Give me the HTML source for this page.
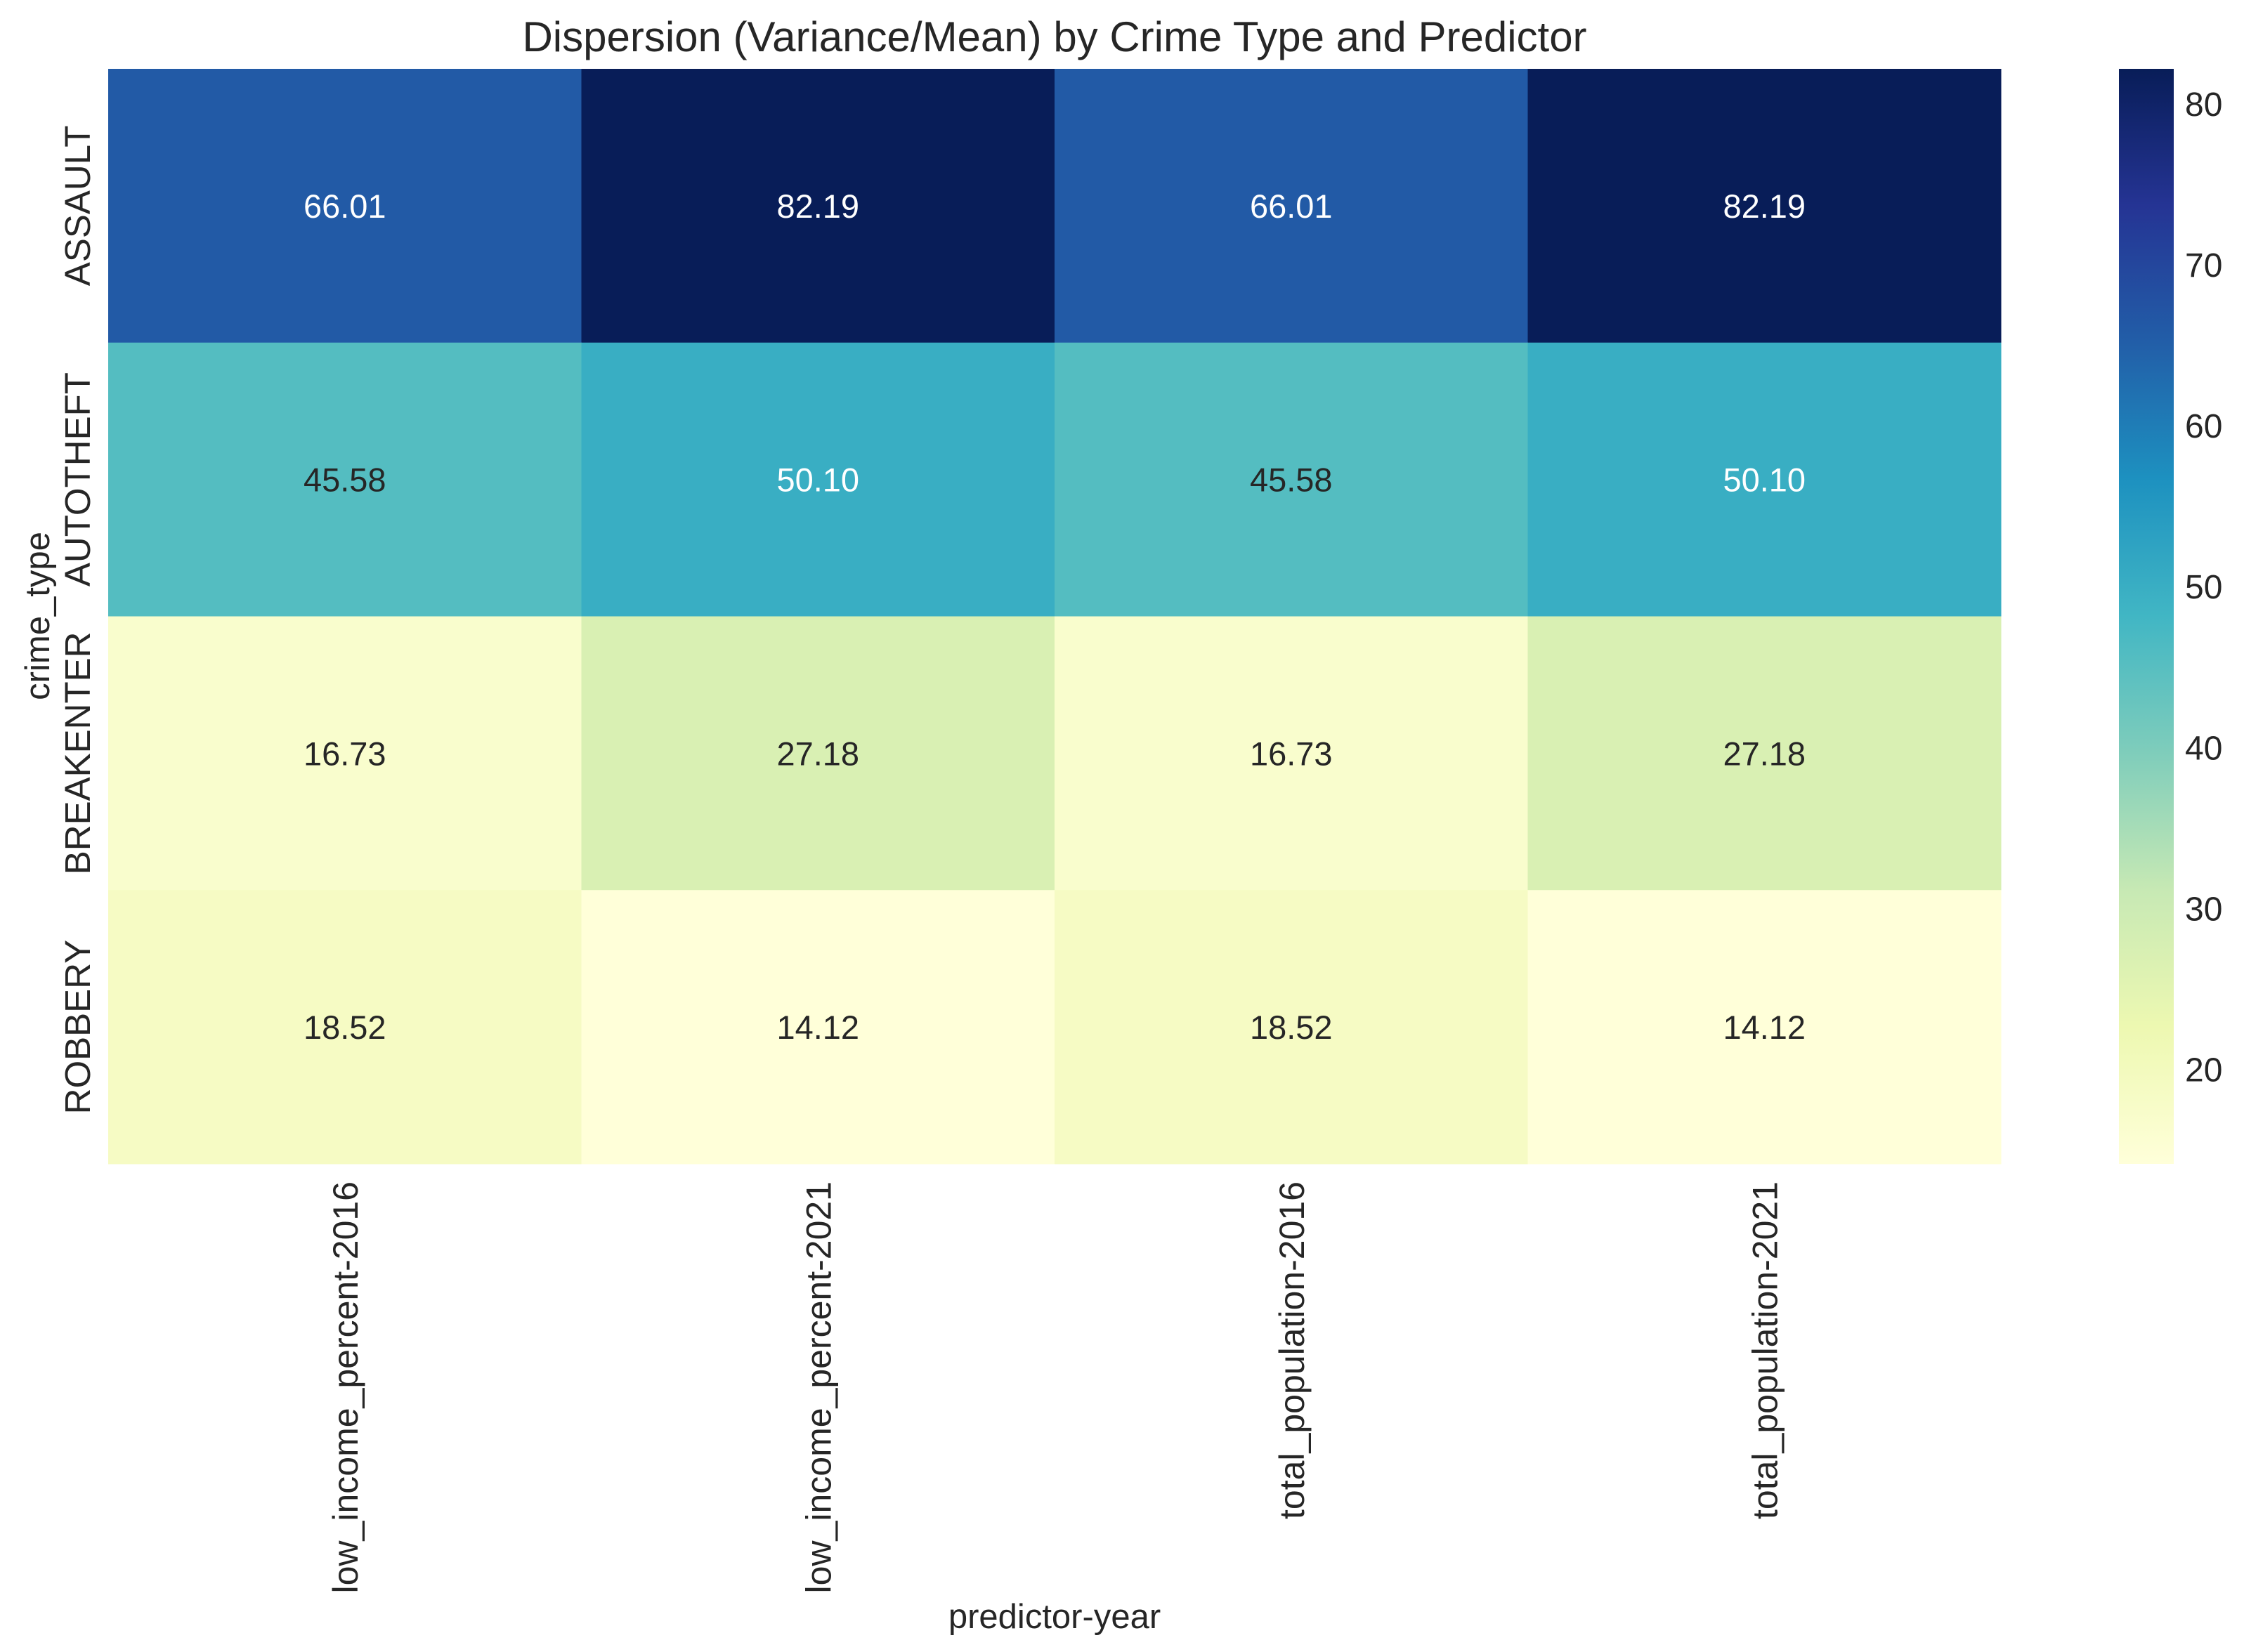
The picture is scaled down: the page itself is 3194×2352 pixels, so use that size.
<!DOCTYPE html>
<html><head><meta charset="utf-8"><style>
html,body{margin:0;padding:0;background:#fff;}
svg{display:block;font-family:"Liberation Sans",Arial,sans-serif;}
</style></head><body>
<svg id="chart" width="3194" height="2352" viewBox="0 0 3194 2352" xmlns="http://www.w3.org/2000/svg">
<defs>
<linearGradient id="cbgrad" x1="0" y1="1" x2="0" y2="0"></linearGradient>
</defs>
<text x="1501" y="73" font-size="60" fill="#262626" text-anchor="middle">Dispersion (Variance/Mean) by Crime Type and Predictor</text>
<g id="cells"></g>
<g id="ylabels"></g>
<g id="xlabels"></g>
<text transform="translate(70,877) rotate(-90)" font-size="49" fill="#262626" text-anchor="middle">crime_type</text>
<text x="1501" y="2318" font-size="49" fill="#262626" text-anchor="middle">predictor-year</text>
<rect id="cbar" x="3016" y="98" width="78" height="1559" fill="url(#cbgrad)"/>
<g id="cbticks"></g>
</svg>
<script>
const rows = ["ASSAULT","AUTOTHEFT","BREAKENTER","ROBBERY"];
const cols = ["low_income_percent-2016","low_income_percent-2021","total_population-2016","total_population-2021"];
const assaultVals = [66.01, 82.19, 66.01, 82.19];
const autotheftVals = [45.58, 50.10, 45.58, 50.10];
const breakenterVals = [16.73, 27.18, 16.73, 27.18];
const robberyVals = [18.52, 14.12, 18.52, 14.12];
const cbTicks = [20, 30, 40, 50, 60, 70, 80];

const values = [assaultVals, autotheftVals, breakenterVals, robberyVals];
const flat = values.flat();
const vmin = Math.min(...flat), vmax = Math.max(...flat);
const X0 = 154, X1 = 2848, Y0 = 98, Y1 = 1657;
const cw = (X1 - X0) / cols.length, rh = (Y1 - Y0) / rows.length;
const NS = "http://www.w3.org/2000/svg";
const stops = ["#ffffd9","#edf8b1","#c7e9b4","#7fcdbb","#41b6c4","#1d91c0","#225ea8","#253494","#081d58"];
function hex(h){return [1,3,5].map(i=>parseInt(h.substr(i,2),16));}
function cmap(t){
  t = Math.max(0, Math.min(1, t));
  const p = t * (stops.length - 1), i = Math.min(Math.floor(p), stops.length - 2), f = p - i;
  const a = hex(stops[i]), b = hex(stops[i+1]);
  return "rgb(" + a.map((v,k)=>Math.round(v + (b[k]-v)*f)).join(",") + ")";
}
function norm(v){return (v - vmin) / (vmax - vmin);}
function yScale(v){return Y0 + (vmax - v) / (vmax - vmin) * (Y1 - Y0);}

const grad = document.getElementById("cbgrad");
stops.forEach((c, i) => {
  const s = document.createElementNS(NS, "stop");
  s.setAttribute("offset", (i / (stops.length - 1)));
  s.setAttribute("stop-color", c);
  grad.appendChild(s);
});

const cells = document.getElementById("cells");
values.forEach((rowVals, r) => {
  rowVals.forEach((v, c) => {
    const rect = document.createElementNS(NS, "rect");
    rect.setAttribute("x", X0 + c * cw);
    rect.setAttribute("y", Y0 + r * rh);
    rect.setAttribute("width", cw + 0.5);
    rect.setAttribute("height", rh + 0.5);
    rect.setAttribute("fill", cmap(norm(v)));
    
    
    cells.appendChild(rect);
    const t = document.createElementNS(NS, "text");
    t.setAttribute("x", X0 + (c + 0.5) * cw);
    t.setAttribute("y", Y0 + (r + 0.5) * rh + 17);
    t.setAttribute("font-size", "47");
    t.setAttribute("text-anchor", "middle");
    t.setAttribute("fill", norm(v) > 0.5 ? "#ffffff" : "#262626");
    t.textContent = v.toFixed(2);
    
    
    cells.appendChild(t);
  });
});

const yl = document.getElementById("ylabels");
rows.forEach((name, r) => {
  const t = document.createElementNS(NS, "text");
  t.setAttribute("transform", "translate(128," + (Y0 + (r + 0.5) * rh) + ") rotate(-90)");
  t.setAttribute("font-size", "51");
  t.setAttribute("text-anchor", "middle");
  t.setAttribute("fill", "#262626");
  t.textContent = name;
  
  
  yl.appendChild(t);
});

const xl = document.getElementById("xlabels");
cols.forEach((name, c) => {
  const t = document.createElementNS(NS, "text");
  t.setAttribute("transform", "translate(" + (X0 + (c + 0.5) * cw + 18) + ",1682) rotate(-90)");
  t.setAttribute("font-size", "50");
  t.setAttribute("text-anchor", "end");
  t.setAttribute("fill", "#262626");
  t.textContent = name;
  
  
  xl.appendChild(t);
});

const cb = document.getElementById("cbticks");
cbTicks.forEach(v => {
  const t = document.createElementNS(NS, "text");
  t.setAttribute("x", 3110);
  t.setAttribute("y", yScale(v) + 17);
  t.setAttribute("font-size", "48");
  t.setAttribute("fill", "#262626");
  t.textContent = v;
  
  
  cb.appendChild(t);
});
</script>
</body></html>
